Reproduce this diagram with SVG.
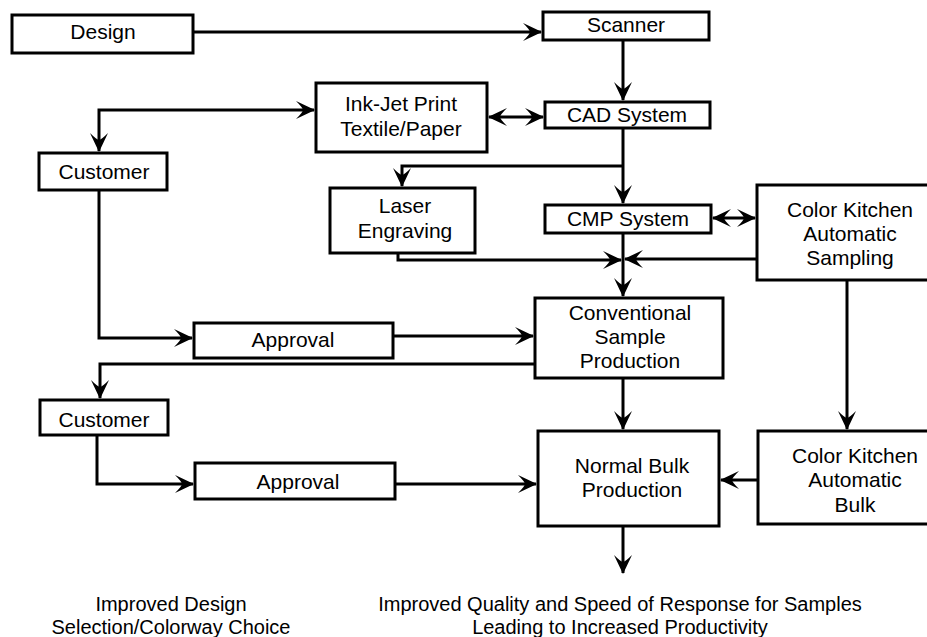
<svg xmlns="http://www.w3.org/2000/svg" width="927" height="637" viewBox="0 0 927 637">
<style>
.box{fill:#fff;stroke:#000;stroke-width:3}
.t{font-family:"Liberation Sans",Arial,sans-serif;font-size:21px;fill:#000;text-anchor:middle}
.n{font-size:20px}
.c{fill:none;stroke:#000;stroke-width:3}
.a{marker-end:url(#ah)}
.b{marker-start:url(#ah);marker-end:url(#ah)}
</style>
<defs>
<marker id="ah" markerUnits="userSpaceOnUse" viewBox="-20 -11 22 22" refX="0" refY="0" markerWidth="22" markerHeight="22" orient="auto-start-reverse">
<path d="M1,0 L-18,-9 Q-11,-2 -11,0 Q-11,2 -18,9 Z" fill="#000"/>
</marker>
</defs>
<rect width="927" height="637" fill="#fff"/>
<g id="connectors">
<path class="c a" d="M193,32 H541"/>
<path class="c a" d="M623,40 V100"/>
<path class="c b" d="M489,117 H543"/>
<path class="c b" d="M314,110 H99 V151"/>
<path class="c a" d="M623,128 V203"/>
<path class="c a" d="M623,166 H402 V186"/>
<path class="c a" d="M398,253 V260 H621"/>
<path class="c a" d="M757,259 H625"/>
<path class="c a" d="M623,233 V296"/>
<path class="c b" d="M713,218 H755"/>
<path class="c a" d="M99,190 V338 H192"/>
<path class="c a" d="M393,336 H533"/>
<path class="c a" d="M535,364 H100 V398"/>
<path class="c a" d="M97,435 V484 H193"/>
<path class="c a" d="M395,484 H536"/>
<path class="c a" d="M623,378 V429"/>
<path class="c a" d="M847,280 V429"/>
<path class="c a" d="M758,480 H721"/>
<path class="c a" d="M623,526 V573"/>
</g>
<g id="design"><rect class="box" x="12" y="15" width="181" height="38"/><text class="t" x="103" y="39">Design</text></g>
<g id="scanner"><rect class="box" x="543" y="12" width="166" height="28"/><text class="t" x="626" y="32">Scanner</text></g>
<g id="cad"><rect class="box" x="545" y="102" width="165" height="26"/><text class="t" x="627" y="122">CAD System</text></g>
<g id="inkjet"><rect class="box" x="316" y="83" width="171" height="69"/><text class="t" x="401" y="111">Ink-Jet Print</text><text class="t" x="401" y="136">Textile/Paper</text></g>
<g id="customer1"><rect class="box" x="39" y="153" width="128" height="37"/><text class="t" x="104" y="179">Customer</text></g>
<g id="laser"><rect class="box" x="330" y="188" width="145" height="65"/><text class="t" x="405" y="213">Laser</text><text class="t" x="405" y="238">Engraving</text></g>
<g id="cmp"><rect class="box" x="545" y="205" width="166" height="28"/><text class="t" x="628" y="226">CMP System</text></g>
<g id="ck-sampling"><rect class="box" x="757" y="185" width="180" height="95"/><text class="t" x="850" y="217">Color Kitchen</text><text class="t" x="850" y="241">Automatic</text><text class="t" x="850" y="265">Sampling</text></g>
<g id="approval1"><rect class="box" x="194" y="323" width="199" height="35"/><text class="t" x="293" y="347">Approval</text></g>
<g id="conventional"><rect class="box" x="535" y="298" width="188" height="80"/><text class="t" x="630" y="320">Conventional</text><text class="t" x="630" y="344">Sample</text><text class="t" x="630" y="368">Production</text></g>
<g id="customer2"><rect class="box" x="40" y="400" width="128" height="35"/><text class="t" x="104" y="427">Customer</text></g>
<g id="approval2"><rect class="box" x="195" y="463" width="200" height="36"/><text class="t" x="298" y="489">Approval</text></g>
<g id="normal-bulk"><rect class="box" x="538" y="431" width="181" height="95"/><text class="t" x="632" y="473">Normal Bulk</text><text class="t" x="632" y="497">Production</text></g>
<g id="ck-bulk"><rect class="box" x="758" y="431" width="180" height="93"/><text class="t" x="855" y="463">Color Kitchen</text><text class="t" x="855" y="487">Automatic</text><text class="t" x="855" y="512">Bulk</text></g>
<g id="notes">
<text class="t n" x="171" y="611">Improved Design</text>
<text class="t n" x="171" y="634">Selection/Colorway Choice</text>
<text class="t n" x="620" y="611">Improved Quality and Speed of Response for Samples</text>
<text class="t n" x="620" y="634">Leading to Increased Productivity</text>
</g>
</svg>
